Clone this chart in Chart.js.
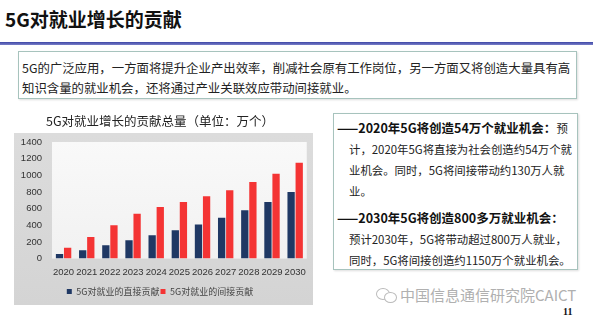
<!DOCTYPE html>
<html>
<head>
<meta charset="utf-8">
<script src="https://cdn.jsdelivr.net/npm/chart.js@4.4.1/dist/chart.umd.min.js"></script>
<style>
  body { margin: 0; background: #fff; font-family: "Noto Sans CJK SC", sans-serif; }
  #slide { position: relative; width: 593px; height: 335px; overflow: hidden; background: #fff; }
  .abs { position: absolute; }
  #title { left: 5px; top: 5px; font-size: 19px; font-weight: bold; color: #111; line-height: 28px; white-space: nowrap; }
  #rule { left: 0; top: 42px; width: 593px; height: 3px; background: linear-gradient(#3d46a6, #7a80c8); }
  #intro { left: 18px; top: 51px; width: 557px; height: 46px; border: 1px solid #a7c3bd; box-shadow: 1px 1px 2px #ddd; }
  .line { position: absolute; white-space: nowrap; color: #222; font-size: 11.4px; line-height: 20px; }
  #intro .line { font-size: 12.4px; }
  #panel { left: 14px; top: 133px; width: 299px; height: 172px; background: linear-gradient(#dcdcdc, #d4d4d4); }
  #chartBox { left: 12px; top: 110px; width: 302px; height: 196px; }
  #notes { left: 333px; top: 113px; width: 243px; height: 155px; border: 1px solid #a7c3bd; box-shadow: 1px 1px 2px #ddd; }
  .b { font-weight: bold; color: #111; font-size: 12.5px; }
  #footer { left: 400px; top: 284px; font-size: 15px; color: #b0b0b0; white-space: nowrap; line-height: 22px; }
  #page { left: 563px; top: 306px; font-size: 10px; font-weight: bold; font-family: "Liberation Serif", serif; color: #111; }
  .bubble { position: absolute; border: 1.3px solid #bbb; border-radius: 50%; }
</style>
</head>
<body>
<div id="slide">
  <div id="title" class="abs">5G对就业增长的贡献</div>
  <div id="rule" class="abs"></div>
  <div id="intro" class="abs">
    <div class="line" style="left:3px; top:6px;">5G的广泛应用，一方面将提升企业产出效率，削减社会原有工作岗位，另一方面又将创造大量具有高</div>
    <div class="line" style="left:3px; top:26px;">知识含量的就业机会，还将通过产业关联效应带动间接就业。</div>
  </div>

  <div id="panel" class="abs"></div>
  <div id="chartBox" class="abs"><canvas id="jobsChart"></canvas></div>

  <div id="notes" class="abs">
    <div class="line" style="left:3px; top:4px;"><span class="b">——2020年5G将创造54万个就业机会：</span>预</div>
    <div class="line" style="left:15px; top:25px;">计，2020年5G将直接为社会创造约54万个就</div>
    <div class="line" style="left:15px; top:46px;">业机会。同时，5G将间接带动约130万人就</div>
    <div class="line" style="left:15px; top:67px;">业。</div>
    <div class="line" style="left:3px; top:94px;"><span class="b">——2030年5G将创造800多万就业机会：</span></div>
    <div class="line" style="left:15px; top:115px;">预计2030年，5G将带动超过800万人就业，</div>
    <div class="line" style="left:15px; top:136px;">同时，5G将间接创造约1150万个就业机会。</div>
  </div>

  <div class="bubble" style="left:376px; top:288px; width:12px; height:10px;"></div>
  <div class="bubble" style="left:384px; top:292px; width:11px; height:9px; background:#fff;"></div>
  <div id="footer" class="abs">中国信息通信研究院CAICT</div>
  <div id="page" class="abs">11</div>
</div>

<script>
const years = ['2020', '2021', '2022', '2023', '2024', '2025', '2026', '2027', '2028', '2029', '2030'];
const directJobs = [54, 100, 160, 220, 280, 340, 410, 490, 580, 680, 800];
const indirectJobs = [130, 260, 400, 540, 620, 680, 750, 820, 920, 1020, 1150];
const yMax = 1400;
const yStep = 200;

const cjk = '"Noto Sans CJK SC", sans-serif';
const num = '"Liberation Sans", "DejaVu Sans", sans-serif';

// light plot background inside the grey panel (drawn after the axes, before the bars)
const plotBg = {
    id: 'plotBg',
    beforeDatasetsDraw(chart) {
        const { ctx, chartArea: a } = chart;
        ctx.save();
        const g = ctx.createLinearGradient(0, a.top, 0, a.bottom);
        g.addColorStop(0, '#f9f9f9');
        g.addColorStop(1, '#f1f1f1');
        ctx.fillStyle = g;
        ctx.fillRect(a.left, a.top, a.right - a.left, a.bottom - a.top);
        ctx.restore();
    }
};

new Chart(document.getElementById('jobsChart'), {
    type: 'bar',
    data: {
        labels: years,
        datasets: [{
            label: '5G对就业的直接贡献',
            data: directJobs,
            backgroundColor: '#1f3864'
        }, {
            label: '5G对就业的间接贡献',
            data: indirectJobs,
            backgroundColor: '#f43434'
        }]
    },
    options: {
        responsive: true,
        maintainAspectRatio: false,
        animation: false,
        categoryPercentage: 0.7,
        barPercentage: 0.9,
        layout: { padding: { left: 0, right: 6, bottom: 0 } },
        plugins: {
            title: {
                display: true,
                text: '5G对就业增长的贡献总量（单位：万个）',
                color: '#222',
                font: { family: cjk, size: 12.5, weight: 'normal' },
                padding: { top: 4, bottom: 13 }
            },
            legend: {
                position: 'bottom',
                labels: {
                    boxWidth: 5,
                    boxHeight: 5,
                    padding: 1,
                    color: '#444',
                    font: { family: cjk, size: 9 }
                }
            },
            tooltip: { enabled: false }
        },
        scales: {
            x: {
                grid: { display: false, drawTicks: false },
                border: { display: false },
                ticks: {
                    color: '#333', padding: 8, autoSkip: false, maxRotation: 0, minRotation: 0,
                    font: { family: num, size: 9.5 }
                }
            },
            y: {
                min: 0,
                max: yMax,
                afterFit: axis => { axis.width = 40; },
                grid: { display: false, drawTicks: false },
                border: { display: false },
                ticks: {
                    stepSize: yStep, color: '#333', padding: 10, autoSkip: false,
                    callback: v => String(v),
                    font: { family: num, size: 9.5 }
                }
            }
        }
    },
    plugins: [plotBg]
});
</script>
</body>
</html>
